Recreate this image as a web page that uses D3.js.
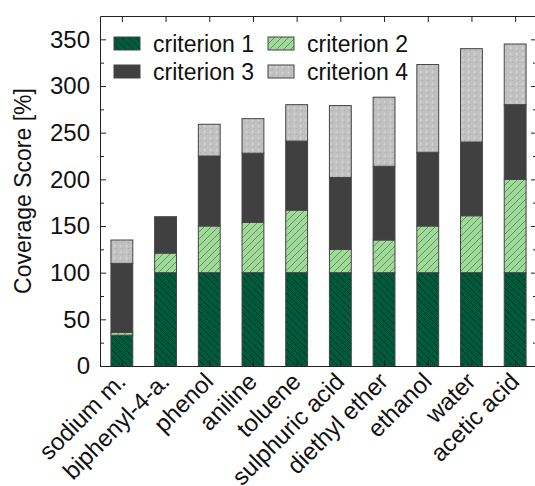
<!DOCTYPE html>
<html>
<head>
<meta charset="utf-8">
<script src="https://cdn.jsdelivr.net/npm/d3@7"></script>
<style>
  html, body { margin: 0; padding: 0; background: #fff; }
  svg { display: block; font-family: "Liberation Sans", Arial, sans-serif; }
  .axis path, .axis line { stroke: #222; }
</style>
</head>
<body>
<div id="chart"></div>
<script>
const CATEGORIES = ['sodium m.', 'biphenyl-4-a.', 'phenol', 'aniline', 'toluene',
  'sulphuric acid', 'diethyl ether', 'ethanol', 'water', 'acetic acid'];
const CRIT1 = [33, 100, 100, 100, 100, 100, 100, 100, 100, 100];
const CRIT2 = [3, 21, 50, 54, 67, 25, 35, 50, 61, 100];
const CRIT3 = [74, 38, 75, 74, 74, 77, 79, 79, 79, 80];
const CRIT4 = [25, 1, 34, 37, 39, 77, 74, 94, 100, 65];
const SERIES = ['criterion 1', 'criterion 2', 'criterion 3', 'criterion 4'];
const Y_TICKS = [0, 50, 100, 150, 200, 250, 300, 350];
const Y_MINOR = [25, 75, 125, 175, 225, 275, 325];

const W = 535, H = 486;
const m = { top: 16, right: -2, bottom: 120, left: 100 };
const iw = W - m.left - m.right;
const ih = H - m.top - m.bottom;

const rows = CATEGORIES.map((c, i) => ({
  i, name: c,
  'criterion 1': CRIT1[i], 'criterion 2': CRIT2[i],
  'criterion 3': CRIT3[i], 'criterion 4': CRIT4[i]
}));

const svg = d3.select('#chart').append('svg')
  .attr('width', W).attr('height', H);

// fill patterns
const defs = svg.append('defs');
const p1 = defs.append('pattern').attr('id', 'p1')
  .attr('patternUnits', 'userSpaceOnUse').attr('width', 7).attr('height', 7);
p1.append('rect').attr('width', 7).attr('height', 7).attr('fill', '#005a3c');
p1.append('path').attr('d', 'M0,0L7,7M-1,6L1,8M6,-1L8,1')
  .attr('stroke', '#00301f').attr('stroke-width', 0.8);

const p2 = defs.append('pattern').attr('id', 'p2')
  .attr('patternUnits', 'userSpaceOnUse').attr('width', 7).attr('height', 7);
p2.append('rect').attr('width', 7).attr('height', 7).attr('fill', '#a1d99b');
p2.append('path').attr('d', 'M0,7L7,0M-1,1L1,-1M6,8L8,6')
  .attr('stroke', '#3c7a44').attr('stroke-width', 0.7);

const p4 = defs.append('pattern').attr('id', 'p4')
  .attr('patternUnits', 'userSpaceOnUse').attr('width', 6).attr('height', 6);
p4.append('rect').attr('width', 6).attr('height', 6).attr('fill', '#c0c0c0');
p4.append('path').attr('d', 'M1,2h3M2.5,0.5v3')
  .attr('stroke', '#d4d4d4').attr('stroke-width', 0.8);
p4.append('rect').attr('x', 4).attr('y', 4).attr('width', 1).attr('height', 1).attr('fill', '#a9a9a9');

const FILLS = {
  'criterion 1': 'url(#p1)', 'criterion 2': 'url(#p2)',
  'criterion 3': '#404040', 'criterion 4': 'url(#p4)'
};

const g = svg.append('g').attr('transform', `translate(${m.left},${m.top})`);

const x = d3.scaleLinear().domain([-0.5, 9.5]).range([0, iw]);
const y = d3.scaleLinear().domain([0, 375]).range([ih, 0]);

const stacked = d3.stack().keys(SERIES)(rows);

g.selectAll('g.layer')
  .data(stacked)
  .join('g')
  .attr('class', 'layer')
  .attr('fill', d => FILLS[d.key])
  .selectAll('rect')
  .data(d => d)
  .join('rect')
  .attr('x', d => x(d.data.i - 0.25))
  .attr('width', x(0.5) - x(0))
  .attr('y', d => y(d[1]))
  .attr('height', d => y(d[0]) - y(d[1]))
  .attr('stroke', '#444')
  .attr('stroke-width', 1);

// axes, ticks pointing inward
const idx = CATEGORIES.map((c, i) => i);

g.append('g').attr('class', 'axis')
  .call(d3.axisLeft(y).tickValues(Y_TICKS).tickSize(-6).tickSizeOuter(0).tickPadding(10))
  .call(s => s.selectAll('text').attr('font-size', '24px').attr('fill', '#111'));
g.append('g').attr('class', 'axis')
  .call(d3.axisLeft(y).tickValues(Y_MINOR).tickSize(-4).tickFormat(''))
  .call(s => s.select('.domain').remove());

g.append('g').attr('class', 'axis')
  .attr('transform', `translate(${iw},0)`)
  .call(d3.axisRight(y).tickValues(Y_TICKS).tickSize(-6).tickSizeOuter(0).tickFormat(''));
g.append('g').attr('class', 'axis')
  .attr('transform', `translate(${iw},0)`)
  .call(d3.axisRight(y).tickValues(Y_MINOR).tickSize(-4).tickFormat(''))
  .call(s => s.select('.domain').remove());

g.append('g').attr('class', 'axis')
  .call(d3.axisTop(x).tickValues(idx).tickSize(-6).tickSizeOuter(0).tickFormat(''));

g.append('g').attr('class', 'axis')
  .attr('transform', `translate(0,${ih})`)
  .call(d3.axisBottom(x).tickValues(idx).tickSize(-6).tickSizeOuter(0)
    .tickFormat(i => CATEGORIES[i]))
  .call(s => s.selectAll('text')
    .attr('font-size', '24px').attr('fill', '#111')
    .attr('text-anchor', 'end')
    .attr('y', 0).attr('dy', '0.35em')
    .attr('transform', 'translate(-1,11) rotate(-45)'));

g.selectAll('.axis .tick line').attr('stroke-width', 1);

// y label
g.append('text')
  .attr('transform', 'rotate(-90)')
  .attr('x', -ih / 2).attr('y', -69)
  .attr('text-anchor', 'middle')
  .attr('font-size', '23px')
  .attr('fill', '#111')
  .text('Coverage Score [%]');

// legend
const legend = g.append('g').attr('transform', 'translate(14,21)');
const lg = legend.selectAll('g')
  .data(SERIES)
  .join('g')
  .attr('transform', (d, i) => `translate(${(i % 2) * 154},${Math.floor(i / 2) * 28})`);
lg.append('rect')
  .attr('width', 26).attr('height', 13)
  .attr('fill', d => FILLS[d])
  .attr('stroke', '#444');
lg.append('text')
  .attr('x', 39).attr('y', 7)
  .attr('dy', '0.35em')
  .attr('font-size', '23px')
  .attr('fill', '#111')
  .text(d => d);
</script>
</body>
</html>
